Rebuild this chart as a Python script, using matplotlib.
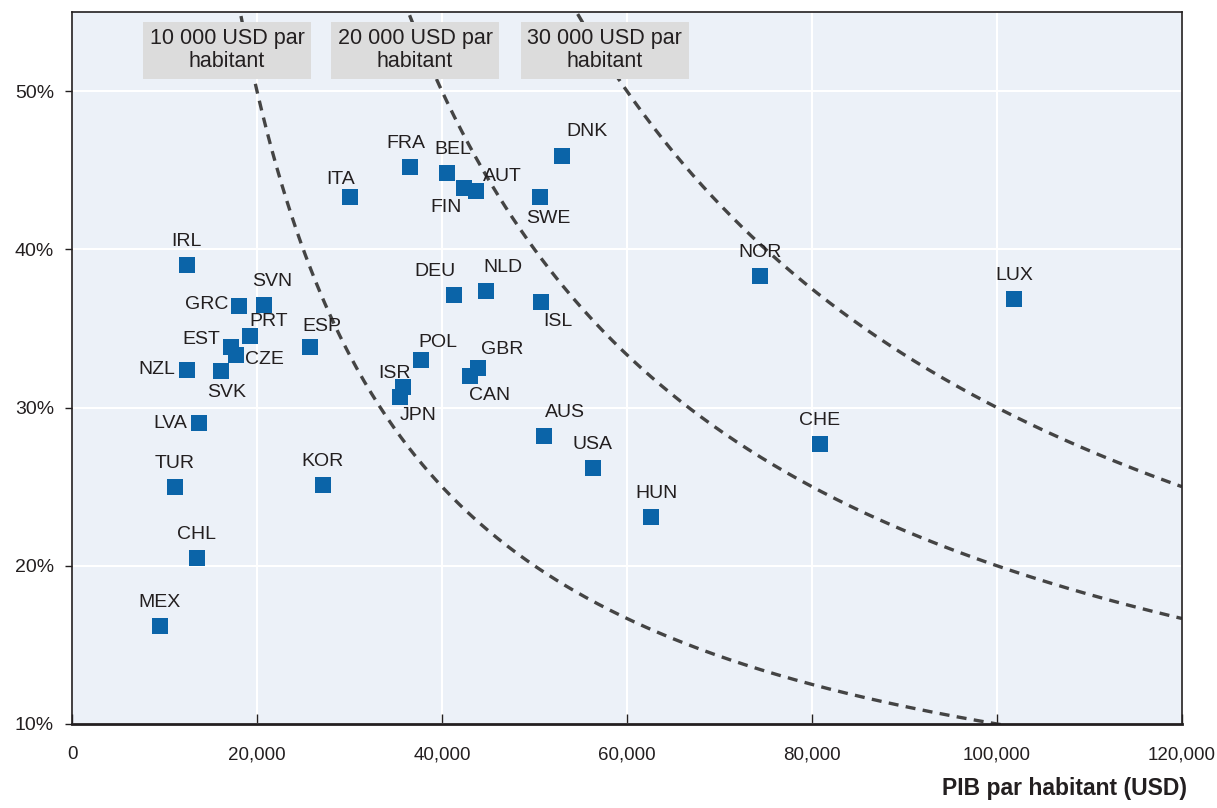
import numpy as np
import matplotlib.pyplot as plt
from matplotlib.ticker import FuncFormatter

plt.rcParams["font.family"] = ["Liberation Sans", "DejaVu Sans"]

countries = ["MEX", "CHL", "TUR", "LVA", "NZL", "SVK", "CZE", "EST", "PRT", "GRC",
             "SVN", "IRL", "ESP", "KOR", "ITA", "ISR", "JPN", "POL", "FRA", "BEL",
             "FIN", "AUT", "DEU", "NLD", "GBR", "CAN", "SWE", "DNK", "ISL", "AUS",
             "USA", "HUN", "NOR", "CHE", "LUX"]
gdp_per_capita = [9500, 13500, 11100, 13700, 12400, 16100, 17700, 17200, 19200, 18050,
                  20750, 12400, 25700, 27100, 30050, 35800, 35450, 37700, 36550, 40550,
                  42400, 43700, 41300, 44750, 43900, 43000, 50600, 52950, 50700, 51000,
                  56300, 62600, 74400, 80850, 101850]
share_pct = [16.2, 20.5, 25.0, 29.0, 32.4, 32.3, 33.3, 33.8, 34.5, 36.4,
             36.5, 39.0, 33.8, 25.1, 43.3, 31.3, 30.7, 33.0, 45.2, 44.8,
             43.9, 43.7, 37.1, 37.35, 32.5, 32.0, 43.3, 45.9, 36.7, 28.2,
             26.2, 23.1, 38.3, 27.7, 36.85]

iso_levels = [10000, 20000, 30000]
iso_labels = ["10 000 USD par\nhabitant", "20 000 USD par\nhabitant", "30 000 USD par\nhabitant"]

# label offsets in points (dx, dy, ha)
up = (0, 17, "center")
label_pos = {
    "MEX": up, "CHL": up, "TUR": up, "KOR": up, "IRL": up, "FRA": (-3, 17, "center"),
    "USA": up, "HUN": (4, 17, "center"), "NOR": up, "CHE": up, "LUX": up,
    "ISR": (-6, 10, "center"), "BEL": (4, 17, "center"),
    "LVA": (-8, 0, "right"), "NZL": (-8, 0, "right"), "GRC": (-8, 1, "right"),
    "EST": (-8, 6, "right"), "CZE": (7, -3, "left"),
    "SVK": (4, -15, "center"), "SWE": (6, -15, "center"), "FIN": (-13, -14, "center"),
    "JPN": (13, -14, "center"), "CAN": (14, -14, "center"), "ISL": (12, -14, "center"),
    "PRT": (14, 11, "center"), "SVN": (6, 17, "center"), "ESP": (9, 15, "center"),
    "POL": (12, 13, "center"), "AUT": (19, 10, "center"), "NLD": (12, 17, "center"),
    "GBR": (17, 13, "center"), "AUS": (15, 17, "center"), "DNK": (18, 18, "center"),
    "DEU": (-14, 17, "center"), "ITA": (-7, 13, "center"),
}

fig = plt.figure(figsize=(12.17, 8.08), dpi=100)
ax = fig.add_axes([0.0592, 0.104, 0.912, 0.881])
ax.set_facecolor("#ECF1F8")

ax.set_xlim(0, 120000)
ax.set_ylim(10, 55)
ax.set_xticks(np.arange(0, 120001, 20000))
ax.set_yticks([10, 20, 30, 40, 50])
ax.grid(True, color="white", linewidth=1.5)
ax.set_axisbelow(True)

xs = np.linspace(15000, 120000, 400)
for k in iso_levels:
    ax.plot(xs, k / xs * 100, color="#444444", linewidth=2.4, linestyle=(0, (3, 2.2)), zorder=2)

ax.scatter(gdp_per_capita, share_pct, marker="s", s=125, color="#0B64A8", zorder=3,
           linewidths=0)

for name, x, y in zip(countries, gdp_per_capita, share_pct):
    dx, dy, ha = label_pos[name]
    ax.annotate(name, (x, y), xytext=(dx, dy), textcoords="offset points",
                ha=ha, va="center", fontsize=14, color="#231F20", zorder=4)

box_x = [0.1396, 0.309, 0.480]
for bx, txt in zip(box_x, iso_labels):
    ax.text(bx, 0.9466, txt, transform=ax.transAxes, ha="center", va="center",
            fontsize=15.5, color="#231F20", linespacing=1.12, zorder=5,
            bbox=dict(boxstyle="square,pad=0.3", facecolor="#DCDCDC", edgecolor="none"))

ax.xaxis.set_major_formatter(FuncFormatter(lambda v, p: f"{int(v):,}"))
ax.yaxis.set_major_formatter(FuncFormatter(lambda v, p: f"{int(v)}%"))
ax.tick_params(axis="x", direction="in", length=7, width=1, pad=16, labelsize=13.5,
               colors="#231F20")
ax.tick_params(axis="y", direction="out", length=5, width=1, pad=8, labelsize=14,
               colors="#231F20")

for side in ["top", "right", "left"]:
    ax.spines[side].set_linewidth(1.2)
    ax.spines[side].set_color("#231F20")
ax.spines["bottom"].set_linewidth(2)
ax.spines["bottom"].set_color("#231F20")

fig.text(0.9755, 0.01, "PIB par habitant (USD)", ha="right", va="bottom",
         fontsize=16.5, fontweight="bold", color="#231F20")

fig.savefig("out.png", dpi=100)
